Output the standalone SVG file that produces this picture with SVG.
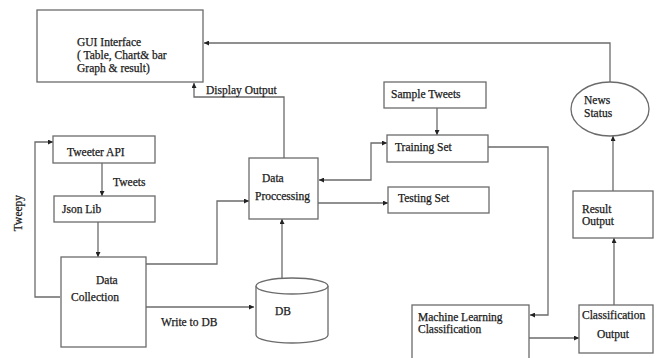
<svg xmlns="http://www.w3.org/2000/svg" width="660" height="358" viewBox="0 0 660 358">
<style>
.box{fill:#fff;stroke:#6b6b6b;stroke-width:1.3}
.ln{fill:none;stroke:#6b6b6b;stroke-width:1.3}
text{font-family:"Liberation Serif","DejaVu Serif","Times New Roman",serif;font-size:11.5px;fill:#1a1a1a;stroke:#1a1a1a;stroke-width:0.25}
</style>
<defs>
<marker id="ah" viewBox="0 0 10 10" refX="10" refY="5" markerWidth="6" markerHeight="5" markerUnits="userSpaceOnUse" orient="auto-start-reverse">
<path d="M0,0 L10,5 L0,10 z" fill="#222"/>
</marker>
</defs>
<rect width="660" height="358" fill="#fff"/>
<g id="connectors">
<path class="ln" d="M610,82 V43 H204" marker-end="url(#ah)"/>
<path class="ln" d="M284,158 V97 H194 V83" marker-end="url(#ah)"/>
<path class="ln" d="M60,297 H35 V142 H53" marker-end="url(#ah)"/>
<path class="ln" d="M102,163 V196" marker-end="url(#ah)"/>
<path class="ln" d="M98,222 V257" marker-end="url(#ah)"/>
<path class="ln" d="M146,264 H217 V201 H249" marker-end="url(#ah)"/>
<path class="ln" d="M146,307 H254" marker-end="url(#ah)"/>
<path class="ln" d="M282,278 V219" marker-end="url(#ah)"/>
<path class="ln" d="M319,180 H371 V143 H387" marker-start="url(#ah)" marker-end="url(#ah)"/>
<path class="ln" d="M318,203 H388" marker-end="url(#ah)"/>
<path class="ln" d="M437,108 V135" marker-end="url(#ah)"/>
<path class="ln" d="M488,147 H548 V315 H530" marker-end="url(#ah)"/>
<path class="ln" d="M529,338 H579" marker-end="url(#ah)"/>
<path class="ln" d="M614,305 V238" marker-end="url(#ah)"/>
<path class="ln" d="M613,191 V136" marker-end="url(#ah)"/>
</g>
<g id="labels">
<text x="206" y="94">Display Output</text>
<text x="113" y="186">Tweets</text>
<text x="161" y="326">Write to DB</text>
<text transform="translate(22,213) rotate(-90)" text-anchor="middle">Tweepy</text>
</g>
<g id="gui">
<rect class="box" x="37" y="10" width="166" height="72"/>
<text x="77" y="46">GUI Interface</text>
<text x="77" y="59">( Table, Chart&amp; bar</text>
<text x="77" y="72">Graph &amp; result)</text>
</g>
<g id="tweeter-api">
<rect class="box" x="53" y="136" width="102" height="27"/>
<text x="67" y="156">Tweeter API</text>
</g>
<g id="json-lib">
<rect class="box" x="54" y="196" width="101" height="26"/>
<text x="62" y="213">Json Lib</text>
</g>
<g id="data-collection">
<rect class="box" x="61" y="257" width="85" height="90"/>
<text x="96" y="284">Data</text>
<text x="71" y="301">Collection</text>
</g>
<g id="db">
<path class="box" d="M256,286 V335 A36,8 0 0 0 328,335 V286"/>
<ellipse class="box" cx="292" cy="286" rx="36" ry="8"/>
<text x="275" y="315">DB</text>
</g>
<g id="data-processing">
<rect class="box" x="249" y="158" width="69" height="61"/>
<text x="262" y="182">Data</text>
<text x="255" y="200">Proccessing</text>
</g>
<g id="sample-tweets">
<rect class="box" x="384" y="82" width="102" height="26"/>
<text x="391" y="98">Sample Tweets</text>
</g>
<g id="training-set">
<rect class="box" x="387" y="135" width="101" height="27"/>
<text x="395" y="151">Training Set</text>
</g>
<g id="testing-set">
<rect class="box" x="388" y="187" width="101" height="26"/>
<text x="398" y="202">Testing Set</text>
</g>
<g id="news-status">
<ellipse class="box" cx="610" cy="109" rx="39" ry="27"/>
<text x="584" y="104">News</text>
<text x="584" y="117">Status</text>
</g>
<g id="result-output">
<rect class="box" x="573" y="191" width="80" height="47"/>
<text x="582" y="213">Result</text>
<text x="582" y="225">Output</text>
</g>
<g id="ml-classification">
<rect class="box" x="412" y="305" width="117" height="60"/>
<text x="418" y="321">Machine Learning</text>
<text x="418" y="333">Classification</text>
</g>
<g id="classification-output">
<rect class="box" x="579" y="305" width="74" height="48"/>
<text x="582" y="319">Classification</text>
<text x="597" y="338">Output</text>
</g>
</svg>
